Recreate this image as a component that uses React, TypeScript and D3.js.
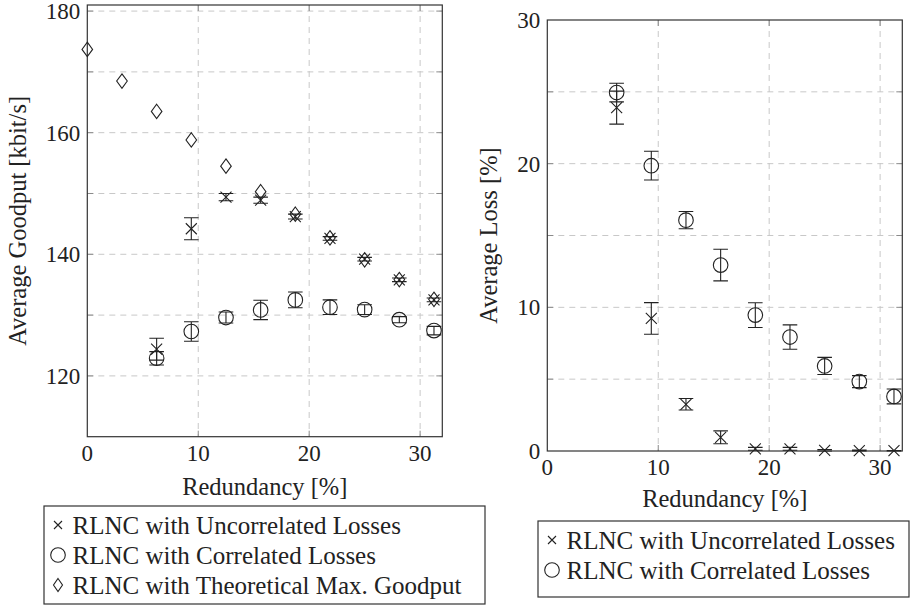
import React from "react";
import * as d3 from "d3";

// redundancy levels (k/32)
const theoryRedundancy = [0, 3.125, 6.25, 9.375, 12.5, 15.625, 18.75, 21.875, 25, 28.125, 31.25];
const theoryGoodput = [173.7, 168.5, 163.5, 158.8, 154.5, 150.3, 146.6, 142.7, 139.1, 135.85, 132.6];

const redundancy = [6.25, 9.375, 12.5, 15.625, 18.75, 21.875, 25, 28.125, 31.25];

const goodputUncorr = [124.4, 144.2, 149.4, 148.9, 146.2, 142.6, 139.2, 135.8, 132.5];
const goodputUncorrErr = [1.8, 1.8, 0.6, 0.5, 0.4, 0.3, 0.3, 0.3, 0.3];
const goodputCorr = [122.9, 127.3, 129.6, 130.85, 132.5, 131.3, 130.9, 129.25, 127.45];
const goodputCorrErr = [1.1, 1.6, 0.9, 1.6, 1.3, 1.2, 0.8, 0.5, 0.7];

const lossUncorr = [23.9, 9.23, 3.25, 0.95, 0.15, 0.15, 0.05, 0.03, 0.02];
const lossUncorrErr = [1.15, 1.1, 0.4, 0.45, 0.1, 0.1, 0.05, 0.03, 0.02];
const lossCorr = [24.95, 19.86, 16.07, 12.94, 9.46, 7.93, 5.92, 4.83, 3.8];
const lossCorrErr = [0.65, 1.0, 0.6, 1.1, 0.86, 0.85, 0.6, 0.42, 0.52];

const xTicks = [0, 10, 20, 30];
const goodputTicks = [120, 140, 160, 180];
const goodputGrid = [120, 130, 140, 150, 160, 170, 180];
const lossTicks = [0, 10, 20, 30];
const lossGrid = [5, 10, 15, 20, 25];

const legendLabels = [
  "RLNC with Uncorrelated Losses",
  "RLNC with Correlated Losses",
  "RLNC with Theoretical Max. Goodput",
];

const FONT = "Liberation Serif, serif";
const INK = "#222";

const tickTxt = { fontFamily: FONT, fontSize: 23, fill: INK };
const labelTxt = { fontFamily: FONT, fontSize: 24.5, fill: INK };
const legendTxt = { fontFamily: FONT, fontSize: 25, fill: INK };

const Cross = ({ x, y, s = 5.5 }) => (
  <path d={`M${x - s},${y - s}L${x + s},${y + s}M${x - s},${y + s}L${x + s},${y - s}`} stroke={INK} strokeWidth={1.1} fill="none" />
);
const Circle = ({ x, y, r = 7.3 }) => (
  <circle cx={x} cy={y} r={r} stroke={INK} strokeWidth={1.1} fill="none" />
);
const Diamond = ({ x, y, w = 5.3, h = 7.2 }) => (
  <path d={`M${x},${y - h}L${x + w},${y}L${x},${y + h}L${x - w},${y}Z`} stroke={INK} strokeWidth={1.1} fill="none" />
);

const ErrorBar = ({ x, y0, y1 }) => (
  <path d={`M${x},${y0}L${x},${y1}M${x - 7.3},${y0}L${x + 7.3},${y0}M${x - 7.3},${y1}L${x + 7.3},${y1}`} stroke={INK} strokeWidth={1.1} fill="none" />
);

const Panel = ({ left, right, top, bottom, yDomain, yTicks, yGrid, yLabel, labelX, xLabelOffset, series, theory }) => {
  const x = d3.scaleLinear().domain([0, 32]).range([left, right]);
  const y = d3.scaleLinear().domain(yDomain).range([bottom, top]);
  const gridStyle = { stroke: "#c8c8c8", strokeWidth: 1, strokeDasharray: "6,5" };
  const tickStyle = { stroke: "#8a8a8a", strokeWidth: 1 };
  return (
    <g>
      {yGrid.map((v) => (
        <g key={"yg" + v}>
          <line x1={left} x2={right} y1={y(v)} y2={y(v)} {...gridStyle} />
          <line x1={left} x2={left + 6} y1={y(v)} y2={y(v)} {...tickStyle} />
          <line x1={right - 6} x2={right} y1={y(v)} y2={y(v)} {...tickStyle} />
        </g>
      ))}
      {xTicks.filter((v) => v > 0).map((v) => (
        <g key={"xg" + v}>
          <line x1={x(v)} x2={x(v)} y1={top} y2={bottom} {...gridStyle} />
          <line x1={x(v)} x2={x(v)} y1={bottom - 6} y2={bottom} {...tickStyle} />
          <line x1={x(v)} x2={x(v)} y1={top} y2={top + 6} {...tickStyle} />
        </g>
      ))}
      <rect x={left} y={top} width={right - left} height={bottom - top} fill="none" stroke="#333" strokeWidth={1.2} />
      {yTicks.map((v) => (
        <text key={"yt" + v} x={left - 7} y={y(v)} dy="0.35em" textAnchor="end" style={tickTxt}>
          {v}
        </text>
      ))}
      {xTicks.map((v) => (
        <text key={"xt" + v} x={x(v)} y={bottom + 16} dy="0.35em" textAnchor="middle" style={tickTxt}>
          {v}
        </text>
      ))}
      <text x={(left + right) / 2} y={bottom + xLabelOffset} dy="0.35em" textAnchor="middle" style={labelTxt}>
        Redundancy [%]
      </text>
      <text
        transform={`translate(${labelX},${(top + bottom) / 2}) rotate(-90)`}
        dy="0.35em"
        textAnchor="middle"
        style={labelTxt}
      >
        {yLabel}
      </text>
      {theory &&
        theoryRedundancy.map((r, i) => <Diamond key={"th" + i} x={x(r)} y={y(theory[i])} />)}
      {series.map((s, si) =>
        redundancy.map((r, i) => (
          <g key={`s${si}-${i}`}>
            <ErrorBar x={x(r)} y0={y(s.values[i] + s.err[i])} y1={y(s.values[i] - s.err[i])} />
            {s.mark === "x" ? <Cross x={x(r)} y={y(s.values[i])} /> : <Circle x={x(r)} y={y(s.values[i])} />}
          </g>
        ))
      )}
    </g>
  );
};

const Legend = ({ x0, x1, y0, y1, rows }) => (
  <g>
    <rect x={x0} y={y0} width={x1 - x0} height={y1 - y0} fill="white" stroke="#333" strokeWidth={1.2} />
    {rows.map((r, i) => {
      const cy = y0 + 19 + i * 30;
      const mx = x0 + 14;
      return (
        <g key={i}>
          {i === 0 && <Cross x={mx} y={cy} s={4} />}
          {i === 1 && <Circle x={mx} y={cy} r={7.3} />}
          {i === 2 && <Diamond x={mx} y={cy} w={4.5} h={6.5} />}
          <text x={x0 + 28.5} y={cy} dy="0.35em" style={legendTxt}>
            {r}
          </text>
        </g>
      );
    })}
  </g>
);

export default function App() {
  return (
    <svg width={912} height={606} style={{ position: "absolute", left: 0, top: 0, background: "white" }}>
      <Panel
        left={87.3}
        right={442.3}
        top={5}
        bottom={436.7}
        yDomain={[110, 181]}
        yTicks={goodputTicks}
        yGrid={goodputGrid}
        yLabel="Average Goodput [kbit/s]"
        labelX={17}
        xLabelOffset={50}
        theory={theoryGoodput}
        series={[
          { values: goodputUncorr, err: goodputUncorrErr, mark: "x" },
          { values: goodputCorr, err: goodputCorrErr, mark: "o" },
        ]}
      />
      <Panel
        left={547.3}
        right={902.3}
        top={20}
        bottom={451}
        yDomain={[0, 30]}
        yTicks={lossTicks}
        yGrid={lossGrid}
        yLabel="Average Loss [%]"
        labelX={488}
        xLabelOffset={47}
        series={[
          { values: lossUncorr, err: lossUncorrErr, mark: "x" },
          { values: lossCorr, err: lossCorrErr, mark: "o" },
        ]}
      />
      <Legend x0={44} x1={485} y0={506} y1={604} rows={legendLabels} />
      <Legend x0={538} x1={909} y0={521} y1={597} rows={legendLabels.slice(0, 2)} />
    </svg>
  );
}
